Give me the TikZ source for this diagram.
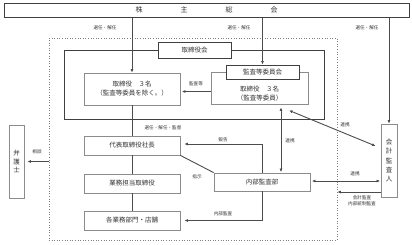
\documentclass[tikz,border=0pt]{standalone}
\usepackage{fontspec}
\setmainfont{Noto Sans CJK JP}
\usetikzlibrary{arrows.meta,calc}
\tikzset{
  box/.style={draw=black!45, line width=0.8pt, fill=white, inner sep=0pt, align=center,
    font=\fontsize{6.5}{9}\selectfont, text=black!80},
  hdr/.style={draw=black!75, line width=1pt, fill=white, inner sep=0pt, align=center,
    font=\fontsize{6.5}{9}\selectfont, text=black!80},
  frm/.style={draw=black!75, line width=1pt, inner sep=0pt},
  dotbox/.style={draw=black!50, dotted, line width=0.6pt, inner sep=0pt},
  ln/.style={draw=black!70, line width=0.9pt},
  arr/.style={ln, -{Latex[length=3.5pt,width=3pt]}},
  darr/.style={ln, {Latex[length=3.5pt,width=3pt]}-{Latex[length=3.5pt,width=3pt]}},
  lbl/.style={inner sep=0pt, font=\fontsize{4.6}{5.6}\selectfont, text=black!80, align=center}
}
\begin{document}
\begin{tikzpicture}[x=1pt,y=-1pt]
\useasboundingbox[fill=white] (0,0) rectangle (412,244);
% containers
\node[dotbox, minimum width=288, minimum height=202] (outer) at (193,139) {};
\node[frm, minimum width=260, minimum height=69] (frame) at (194,84.5) {};
% top box
\node[hdr, minimum width=405, minimum height=14, font=\fontsize{7}{8}\selectfont] (kabu) at (206.5,10)
  {株\hspace{38pt}主\hspace{38pt}総\hspace{38pt}会};
% board
\node[hdr, minimum width=73, minimum height=16] (torikai) at (194.5,50) {取締役会};
\node[box, minimum width=96, minimum height=32] (boxA) at (132,89)
  {取締役　３名\\（監査等委員を除く。）};
\node[box, minimum width=97, minimum height=32,
  label={[box, draw=none, fill=none, yshift=-5.5pt]center:取締役　３名\\（監査等委員）}] (boxB) at (259.5,88) {};
\node[hdr, minimum width=73, minimum height=14] (kansa) at (262.5,72) {監査等委員会};
% executive column
\node[box, minimum width=96, minimum height=19] (daihyo) at (132,145.5) {代表取締役社長};
\node[box, minimum width=96, minimum height=19] (gyomu) at (132,183.5) {業務担当取締役};
\node[box, minimum width=96, minimum height=19] (kaku) at (132,220.5) {各業務部門・店舗};
\node[box, minimum width=96, minimum height=18] (naibu) at (262,182) {内部監査部};
% side boxes
\node[box, minimum width=16, minimum height=73, font=\fontsize{6.5}{9.3}\selectfont] (kaikei) at (389,160.5)
  {会\\計\\監\\査\\人};
\node[box, minimum width=15, minimum height=73, font=\fontsize{6.5}{8.2}\selectfont] (bengo) at (16.5,161.5)
  {弁\\護\\士};
% connectors from shareholders
\draw[arr] (kabu.south -| boxA.north) -- (boxA.north);
\draw[arr] (kabu.south -| kansa.north) -- (kansa.north);
\draw[arr] (kabu.south -| kaikei.north) -- (kaikei.north);
% column lines
\draw[ln] (boxA.south) -- (daihyo.north);
\draw[ln] (daihyo.south) -- (gyomu.north);
\draw[ln] (gyomu.south) -- (kaku.north);
% audit committee to directors
\coordinate (kt) at ($(boxB.west)+(0,3.5)$);
\draw[arr, shorten >=1.5pt] (kt) -- (kt -| boxA.east);
% internal audit
\draw[arr, shorten >=4pt] (naibu.north) |- ($(daihyo.east)+(0,-1.5)$);
\draw[arr, shorten >=4pt] (naibu.south) |- (kaku.east);
\draw[ln] (daihyo.south east) -- (naibu.north west);
\coordinate (rv) at ($(naibu.north)+(19,0)$);
\draw[darr, shorten <=3pt, shorten >=0.5pt] (rv |- boxB.south) -- (rv);
% accounting auditor links
\coordinate (d1) at ($(boxB.south)+(29.5,6)$);
\coordinate (d2) at ($(kaikei.west)+(-5,-14.5)$);
\draw[darr] (d1) -- (d2);
\coordinate (h1) at ($(naibu.east)+(0,-1)$);
\draw[darr, shorten <=1.5pt, shorten >=0.5pt] (h1) -- (h1 -| kaikei.west);
\coordinate (h2) at ($(kaikei.west)+(0,31.5)$);
\draw[arr] (h2) -- (h2 -| outer.east);
% lawyer
\draw[arr, shorten >=3pt] (bengo.east -| outer.west) -- (bengo.east);
% labels
\node[lbl] (l1) at (105,28) {選任・解任};
\node[lbl] (l2) at (239,28) {選任・解任};
\node[lbl] (l3) at (367,28) {選任・解任};
\node[lbl] (l4) at (196,84) {監査等};
\node[lbl] (l5) at (163,128) {選任・解任・監督};
\node[lbl] (l6) at (37,152) {相談};
\node[lbl] (l7) at (223,140) {報告};
\node[lbl] (l8) at (290,141) {連携};
\node[lbl] (l9) at (197,177) {指示};
\node[lbl] (l10) at (223,214) {内部監査};
\node[lbl] (l11) at (345,125) {連携};
\node[lbl] (l12) at (355,174) {連携};
\node[lbl] (l13) at (362,201) {会計監査\\内部統制監査};
\end{tikzpicture}
\end{document}
